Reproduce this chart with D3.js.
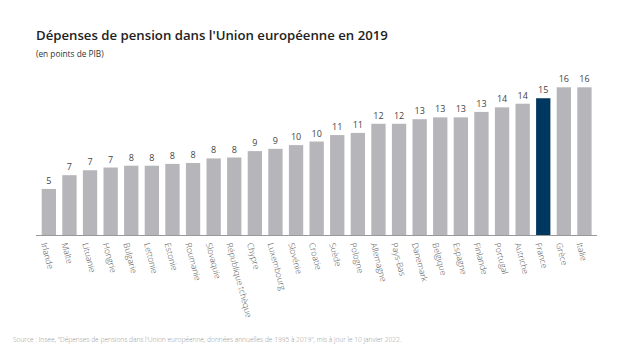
<!DOCTYPE html>
<html><head><meta charset="utf-8">
<script src="https://cdn.jsdelivr.net/npm/d3@7"></script>
<style>body{margin:0;background:#fff;} svg{display:block;font-family:"Open Sans",sans-serif;}</style>
</head><body>
<svg id="c" width="636" height="358"></svg>
<script>
const categories = ["Irlande","Malte","Lituanie","Hongrie","Bulgarie","Lettonie","Estonie","Roumanie","Slovaquie","République tchèque","Chypre","Luxembourg","Slovénie","Croatie","Suède","Pologne","Allemagne","Pays-Bas","Danemark","Belgique","Espagne","Finlande","Portugal","Autriche","France","Grèce","Italie"];
const values = [5.05,6.56,7.1,7.4,7.6,7.6,7.8,7.9,8.4,8.5,9.2,9.45,9.86,10.25,10.96,11.2,12.2,12.2,12.7,12.9,12.9,13.5,14.0,14.4,15.0,16.2,16.2];
const labels = ["5","7","7","7","8","8","8","8","8","8","9","9","10","10","11","11","12","12","13","13","13","13","14","14","15","16","16"];
const highlight = "France";
const title = "Dépenses de pension dans l'Union européenne en 2019";
const subtitle = "(en points de PIB)";
const source = "Source : Insee, \"Dépenses de pensions dans l'Union européenne, données annuelles de 1995 à 2019\", mis à jour le 10 janvier 2022.";

const svg = d3.select("#c");
const baseY = 235;
const x = d3.scaleBand().domain(categories).range([41.7, 591.6]).paddingInner(0.306).paddingOuter(0);
const y = d3.scaleLinear().domain([0, 16.2]).range([baseY, 87.3]);

svg.append("text").attr("x",36).attr("y",40).attr("font-size",13.2).attr("font-weight",600).attr("fill","#222").text(title);
svg.append("text").attr("x",36).attr("y",57).attr("font-size",8.3).attr("fill","#333").text(subtitle);

svg.append("g").selectAll("rect").data(categories).join("rect")
  .attr("x", d => x(d)).attr("width", x.bandwidth())
  .attr("y", (d,i) => y(values[i])).attr("height", (d,i) => baseY - y(values[i]))
  .attr("fill", d => d === highlight ? "#00375e" : "#b5b5ba");

svg.append("g").selectAll("text").data(categories).join("text")
  .attr("x", d => x(d) + x.bandwidth()/2).attr("y", (d,i) => y(values[i]) - 5)
  .attr("text-anchor","middle").attr("font-size",9).attr("fill","#444")
  .text((d,i) => labels[i]);

const axis = d3.axisBottom(x).tickSize(0).tickPadding(0);
const gx = svg.append("g").attr("transform",`translate(0,${baseY})`).call(axis);
gx.select(".domain").remove();
svg.append("line").attr("x1",36).attr("x2",597).attr("y1",baseY+0.5).attr("y2",baseY+0.5).attr("stroke","#999").attr("stroke-width",1);
gx.selectAll(".tick text")
  .attr("transform","translate(-5,8) rotate(75)")
  .attr("text-anchor","start").attr("dy","0.35em").attr("y",0)
  .attr("font-size",8.5).attr("font-weight",300).attr("fill","#555")
  .style("font-family","'Open Sans',sans-serif");

svg.append("text").attr("x",13).attr("y",342).attr("font-size",6.6).attr("font-weight",300).attr("fill","#999").text(source);
</script>
</body></html>
